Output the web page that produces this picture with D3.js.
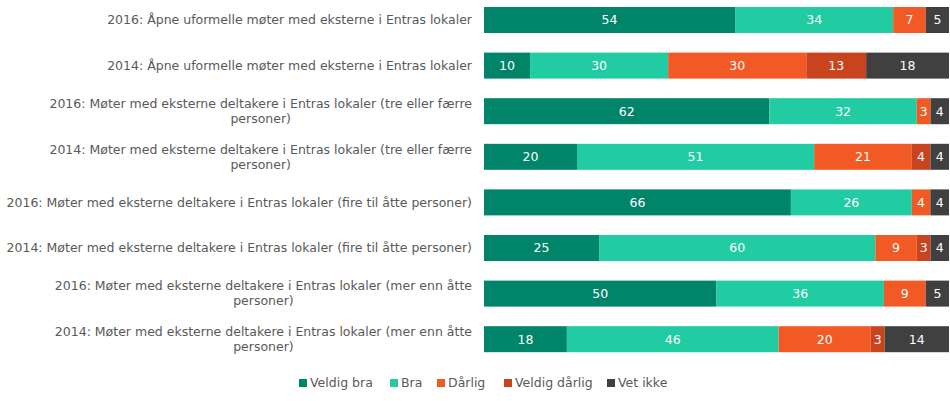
<!DOCTYPE html>
<html><head><meta charset="utf-8">
<script src="https://cdn.jsdelivr.net/npm/d3@7"></script>
<style>body{margin:0;background:#fff}</style>
</head><body>
<svg id="chart" width="950" height="401"></svg>
<script>
const categories = [
  "2016: Åpne uformelle møter med eksterne i Entras lokaler",
  "2014: Åpne uformelle møter med eksterne i Entras lokaler",
  "2016: Møter med eksterne deltakere i Entras lokaler (tre eller færre personer)",
  "2014: Møter med eksterne deltakere i Entras lokaler (tre eller færre personer)",
  "2016: Møter med eksterne deltakere i Entras lokaler (fire til åtte personer)",
  "2014: Møter med eksterne deltakere i Entras lokaler (fire til åtte personer)",
  "2016: Møter med eksterne deltakere i Entras lokaler (mer enn åtte personer)",
  "2014: Møter med eksterne deltakere i Entras lokaler (mer enn åtte personer)"
];
const seriesNames = ["Veldig bra", "Bra", "Dårlig", "Veldig dårlig", "Vet ikke"];
const veldigBra    = [54, 10, 62, 20, 66, 25, 50, 18];
const bra          = [34, 30, 32, 51, 26, 60, 36, 46];
const darlig       = [7, 30, 3, 21, 4, 9, 9, 20];
const veldigDarlig = [0, 13, 0, 4, 0, 3, 0, 3];
const vetIkke      = [5, 18, 4, 4, 4, 4, 5, 14];
const colors = ["#00856a", "#22cca2", "#f15a24", "#c8441e", "#404040"];

const seriesVals = [veldigBra, bra, darlig, veldigDarlig, vetIkke];
const rows = categories.map((c, i) => {
  const o = {cat: c};
  seriesNames.forEach((s, j) => o[s] = seriesVals[j][i]);
  return o;
});

const svg = d3.select("#chart");
const FONT = "'DejaVu Sans', sans-serif";
const FS = "12.5px";
const x = d3.scaleLinear().domain([0, 1]).range([484, 949]);
const y = d3.scaleBand().domain(categories).range([-2.8, 362]).paddingInner(0.43).paddingOuter(0.215);
const color = d3.scaleOrdinal().domain(seriesNames).range(colors);

const stack = d3.stack().keys(seriesNames).offset(d3.stackOffsetExpand);
const stacked = stack(rows);

const g = svg.append("g");
stacked.forEach(layer => {
  const lg = g.append("g").attr("fill", color(layer.key));
  lg.selectAll("rect").data(layer).join("rect")
    .attr("x", d => x(d[0]))
    .attr("y", d => y(d.data.cat))
    .attr("width", d => Math.max(0, x(d[1]) - x(d[0])))
    .attr("height", y.bandwidth());
  lg.selectAll("text").data(layer.filter(d => d.data[layer.key] > 0)).join("text")
    .attr("x", d => (x(d[0]) + x(d[1])) / 2)
    .attr("y", d => y(d.data.cat) + y.bandwidth() / 2)
    .attr("dy", "0.35em")
    .attr("text-anchor", "middle")
    .attr("fill", "#fff")
    .style("font-family", FONT)
    .style("font-size", FS)
    .text(d => d.data[layer.key]);
});

// category labels, wrapped and centred in a block whose right edge is at 472
const labelRight = 472, maxW = 470;
const lab = svg.append("g").style("font-family", FONT).style("font-size", FS).attr("fill", "#595959");
categories.forEach(c => {
  const t = lab.append("text");
  const words = c.split(" ");
  const lines = [];
  let line = [];
  const meas = lab.append("text").style("visibility", "hidden");
  words.forEach(w => {
    const test = line.concat(w).join(" ");
    meas.text(test);
    if (meas.node().getComputedTextLength() > maxW && line.length) {
      lines.push(line.join(" ")); line = [w];
    } else line.push(w);
  });
  lines.push(line.join(" "));
  meas.text(lines[0]);
  const w0 = meas.node().getComputedTextLength();
  meas.remove();
  const cx = labelRight - w0 / 2;
  const lh = 15;
  const cy = y(c) + y.bandwidth() / 2 - (lines.length - 1) * lh / 2;
  lines.forEach((l, i) => {
    t.append("tspan").attr("x", cx).attr("y", cy + i * lh).attr("dy", "0.35em")
      .attr("text-anchor", "middle").text(l);
  });
});

// legend
const legendX = [299, 390, 437, 504, 607];
const leg = svg.append("g").style("font-family", FONT).style("font-size", FS).attr("fill", "#595959");
seriesNames.forEach((s, i) => {
  leg.append("rect").attr("x", legendX[i]).attr("y", 379).attr("width", 8).attr("height", 8).attr("fill", color(s));
  leg.append("text").attr("x", legendX[i] + 11).attr("y", 383).attr("dy", "0.35em").text(s);
});
</script>
</body></html>
